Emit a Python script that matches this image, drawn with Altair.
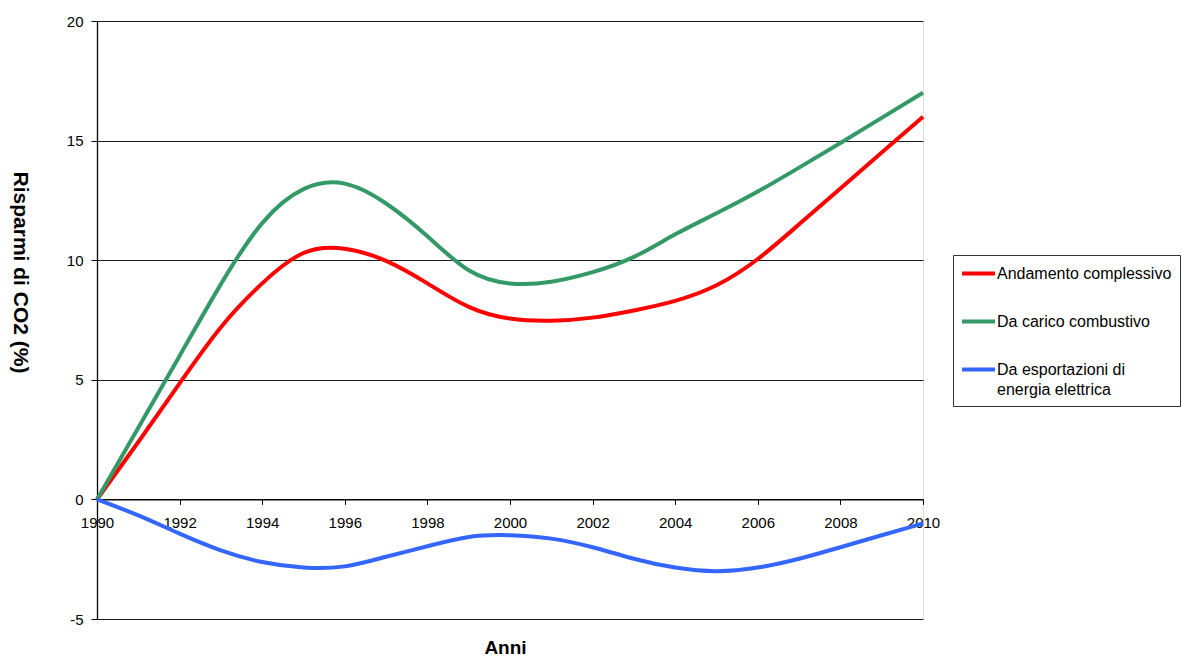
import altair as alt
import pandas as pd

# Yearly CO2 savings (%), 1990-2010
years = list(range(1990, 2011))
andamento = [0, 2.4, 4.85, 7.2, 9.03, 10.3, 10.48, 9.97, 9.03, 8.05, 7.56,
             7.47, 7.6, 7.9, 8.3, 8.95, 10.05, 11.5, 13.0, 14.5, 16.0]
carico = [0, 3.0, 6.0, 9.0, 11.55, 12.97, 13.2, 12.37, 11.0, 9.58, 9.03,
          9.1, 9.5, 10.14, 11.08, 11.96, 12.87, 13.87, 14.9, 15.95, 17.0]
esportazioni = [0, -0.67, -1.43, -2.13, -2.62, -2.85, -2.8, -2.4, -1.96, -1.57, -1.5,
                -1.64, -2.0, -2.48, -2.85, -3.0, -2.85, -2.48, -2.0, -1.5, -1.0]

series_names = ["Andamento complessivo", "Da carico combustivo",
                "Da esportazioni di energia elettrica"]
series_colors = ["#FF0000", "#339966", "#3366FF"]

rows = []
for name, vals in zip(series_names, [andamento, carico, esportazioni]):
    for y, v in zip(years, vals):
        rows.append({"anno": y, "valore": v, "serie": name})
df = pd.DataFrame(rows)

W, H = 826, 598
ZERO_OFFSET = H * 5 / 25  # distance of the 0 line from the bottom of the plot
FONT = "Liberation Sans"

x_axis = alt.Axis(
    values=list(range(1990, 2011, 2)), format="d", title="Anni",
    offset=-ZERO_OFFSET, domainColor="#000000", domainWidth=1.3,
    tickColor="#000000", tickSize=5, labelPadding=11, labelFontSize=15,
    labelColor="#000000", labelFont=FONT, labelFlush=False, labelOverlap=False,
    grid=False,
    titleFont=FONT, titleFontSize=19, titleFontWeight="bold",
    titleColor="#000000", titleX=408, titleY=ZERO_OFFSET + 28,
    titleBaseline="middle",
)
y_axis = alt.Axis(
    values=[-5, 0, 5, 10, 15, 20], title="Risparmi di CO2 (%)",
    labelExpr="'' + datum.value",
    domainColor="#000000", domainWidth=1.3, tickColor="#000000", tickSize=6,
    labelPadding=8, labelFontSize=15, labelColor="#000000", labelFont=FONT,
    labelFlush=False, gridColor="#1a1a1a", gridWidth=1,
    titleFont=FONT, titleFontSize=21, titleFontWeight="bold",
    titleColor="#000000", titleAngle=90, titleX=-78, titleY=251,
    titleBaseline="middle",
)

legend = alt.Legend(
    title=None, orient="none", legendX=856, legendY=234,
    symbolType="M-2,0L2,0", symbolSize=272, symbolStrokeWidth=4,
    symbolOffset=7,
    labelFont=FONT, labelFontSize=16, labelColor="#000000", labelLimit=400,
    labelOffset=8,
    labelExpr="datum.label == 'Da esportazioni di energia elettrica' ? "
              "['Da esportazioni di', 'energia elettrica'] : datum.label",
    strokeColor="#333333", fillColor="#FFFFFF", padding=8, rowPadding=29,
    offset=0,
)

chart = alt.Chart(df).mark_line(
    interpolate="natural", strokeWidth=4, strokeCap="butt"
).encode(
    x=alt.X("anno:Q", scale=alt.Scale(domain=[1990, 2010], nice=False, zero=False),
            axis=x_axis),
    y=alt.Y("valore:Q", scale=alt.Scale(domain=[-5, 20], nice=False), axis=y_axis),
    color=alt.Color("serie:N", scale=alt.Scale(domain=series_names, range=series_colors),
                    legend=legend),
).properties(
    width=W, height=H,
    autosize=alt.AutoSizeParams(type="none"),
    padding={"left": 97, "top": 21, "right": 1182 - 97 - W, "bottom": 659 - 21 - H},
).configure_view(
    stroke="#808080", strokeWidth=1.3
).configure(
    background="#FFFFFF",
    style={"guide-label": {"lineHeight": 20}},
)

chart.save("out.html", embed_options={"renderer": "svg", "actions": False})
